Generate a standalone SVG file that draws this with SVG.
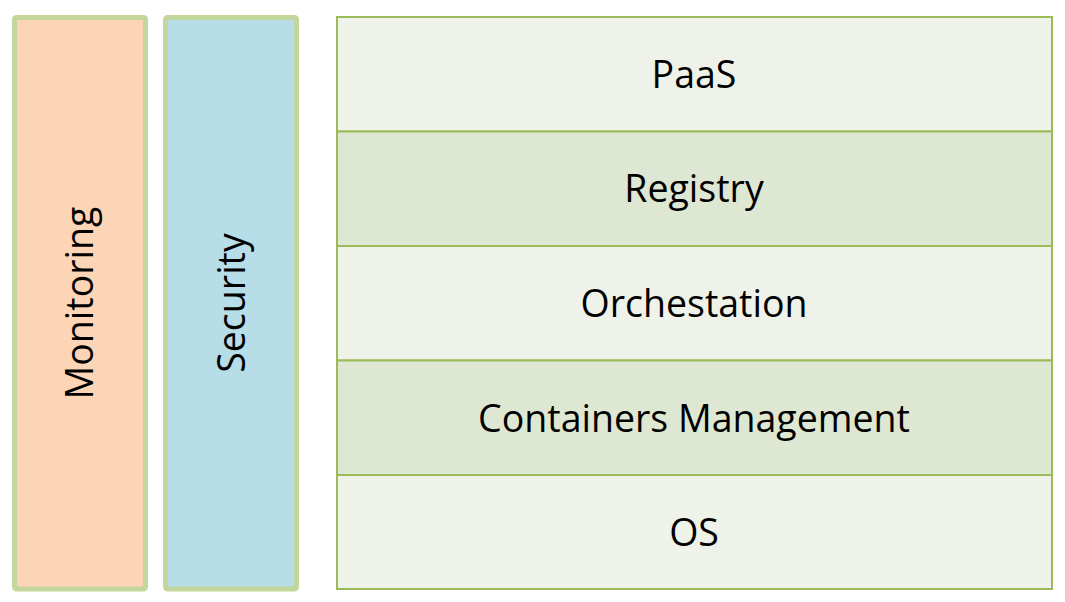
<svg xmlns="http://www.w3.org/2000/svg" width="1065" height="602" viewBox="0 0 1065 602">
<style>
.side{stroke:#C3D69B;stroke-width:5}
.row{stroke:#9BBB59;stroke-width:2}
.light{fill:#EFF2E9}
.dark{fill:#DEE7D1}
text{font-family:"Open Sans","Liberation Sans",sans-serif;font-size:37.5px;fill:#000;text-anchor:middle}
</style>
<rect width="1065" height="602" fill="#fff"/>
<g id="monitoring">
<rect class="side" x="14.5" y="17.5" width="131" height="571.5" rx="2" fill="#FBD5B5"/>
<text transform="translate(93,303) rotate(-90)" x="0" y="0">Monitoring</text>
</g>
<g id="security">
<rect class="side" x="165.5" y="17.5" width="131" height="571.5" rx="2" fill="#B7DDE8"/>
<text transform="translate(245,303) rotate(-90)" x="0" y="0">Security</text>
</g>
<g id="paas">
<rect class="row light" x="337" y="17" width="715" height="114.5"/>
<text x="694" y="88">PaaS</text>
</g>
<g id="registry">
<rect class="row dark" x="337" y="131.5" width="715" height="114.5"/>
<text x="694" y="202">Registry</text>
</g>
<g id="orchestation">
<rect class="row light" x="337" y="246" width="715" height="114.5"/>
<text x="694" y="317">Orchestation</text>
</g>
<g id="containers">
<rect class="row dark" x="337" y="360.5" width="715" height="114.5"/>
<text x="694" y="432">Containers Management</text>
</g>
<g id="os">
<rect class="row light" x="337" y="475" width="715" height="114"/>
<text x="694" y="546">OS</text>
</g>
<g id="connectors"></g>
</svg>
